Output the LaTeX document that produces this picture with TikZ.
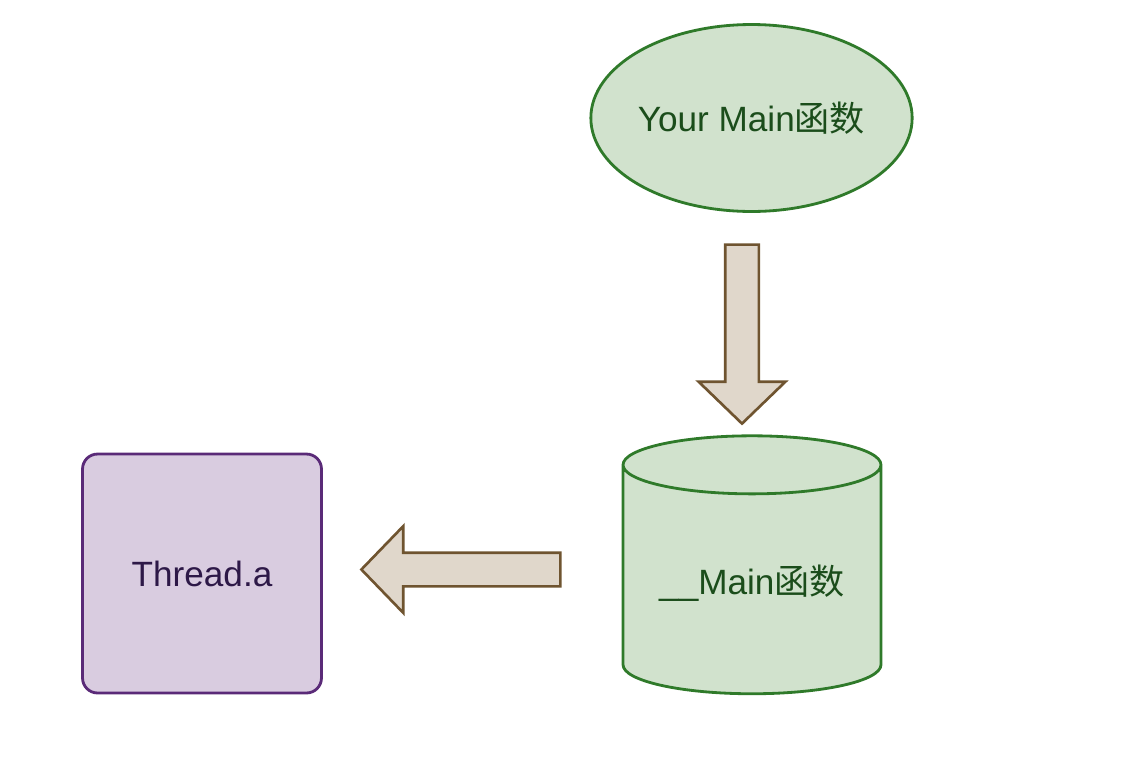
\documentclass[tikz,border=0pt]{standalone}
\usepackage{fontspec}
\setmainfont{Liberation Sans}
\newfontfamily\cjk{Noto Sans CJK SC}
\usetikzlibrary{shapes.geometric,shapes.arrows}
\definecolor{mainfill}{HTML}{D1E2CD}
\definecolor{maindraw}{HTML}{2F7A2A}
\definecolor{maintext}{HTML}{1B4D1B}
\definecolor{arrowfill}{HTML}{E0D7CB}
\definecolor{arrowdraw}{HTML}{6F5430}
\definecolor{threadfill}{HTML}{D9CCE0}
\definecolor{threaddraw}{HTML}{5A2A78}
\definecolor{threadtext}{HTML}{2D1847}
\begin{document}
\begin{tikzpicture}[x=0.02cm,y=-0.02cm,
	bigtext/.style={font=\fontsize{20}{24}\selectfont},
	greenshape/.style={draw=maindraw,fill=mainfill,line width=1.6pt,text=maintext,bigtext},
	blockarrow/.style={single arrow,draw=arrowdraw,fill=arrowfill,line width=1.5pt,
		inner sep=0.31cm,minimum width=1.66cm,single arrow head extend=0.53cm,
		single arrow tip angle=92}]
	\useasboundingbox (0,0) rectangle (1148,778);
	
	\node[greenshape,ellipse,inner sep=0pt,minimum width=6.40cm,minimum height=3.74cm]
		(yourmain) at (751.5,118) {Your Main{\cjk 函数}};
	\node[blockarrow,shape border rotate=270,minimum height=3.58cm]
		(callarrow) at (742,326) {};
	\node[greenshape,cylinder,shape border rotate=90,aspect=0.225,
		inner xsep=2.58cm,inner ysep=0.2cm,minimum height=5.16cm,
		label={[text=maintext,bigtext,yshift=0.22cm]center:\_\_Main{\cjk 函数}}]
		(mainfn) at (752,594.5) {};
	\node[blockarrow,shape border rotate=180,minimum height=3.98cm]
		(linkarrow) at (469,569.5) {};
	\node[draw=threaddraw,fill=threadfill,line width=1.6pt,rounded corners=0.3cm,
		minimum width=4.78cm,minimum height=4.78cm,text=threadtext,bigtext]
		(thread) at (202,573.5) {Thread.a};
	
\end{tikzpicture}
\end{document}
